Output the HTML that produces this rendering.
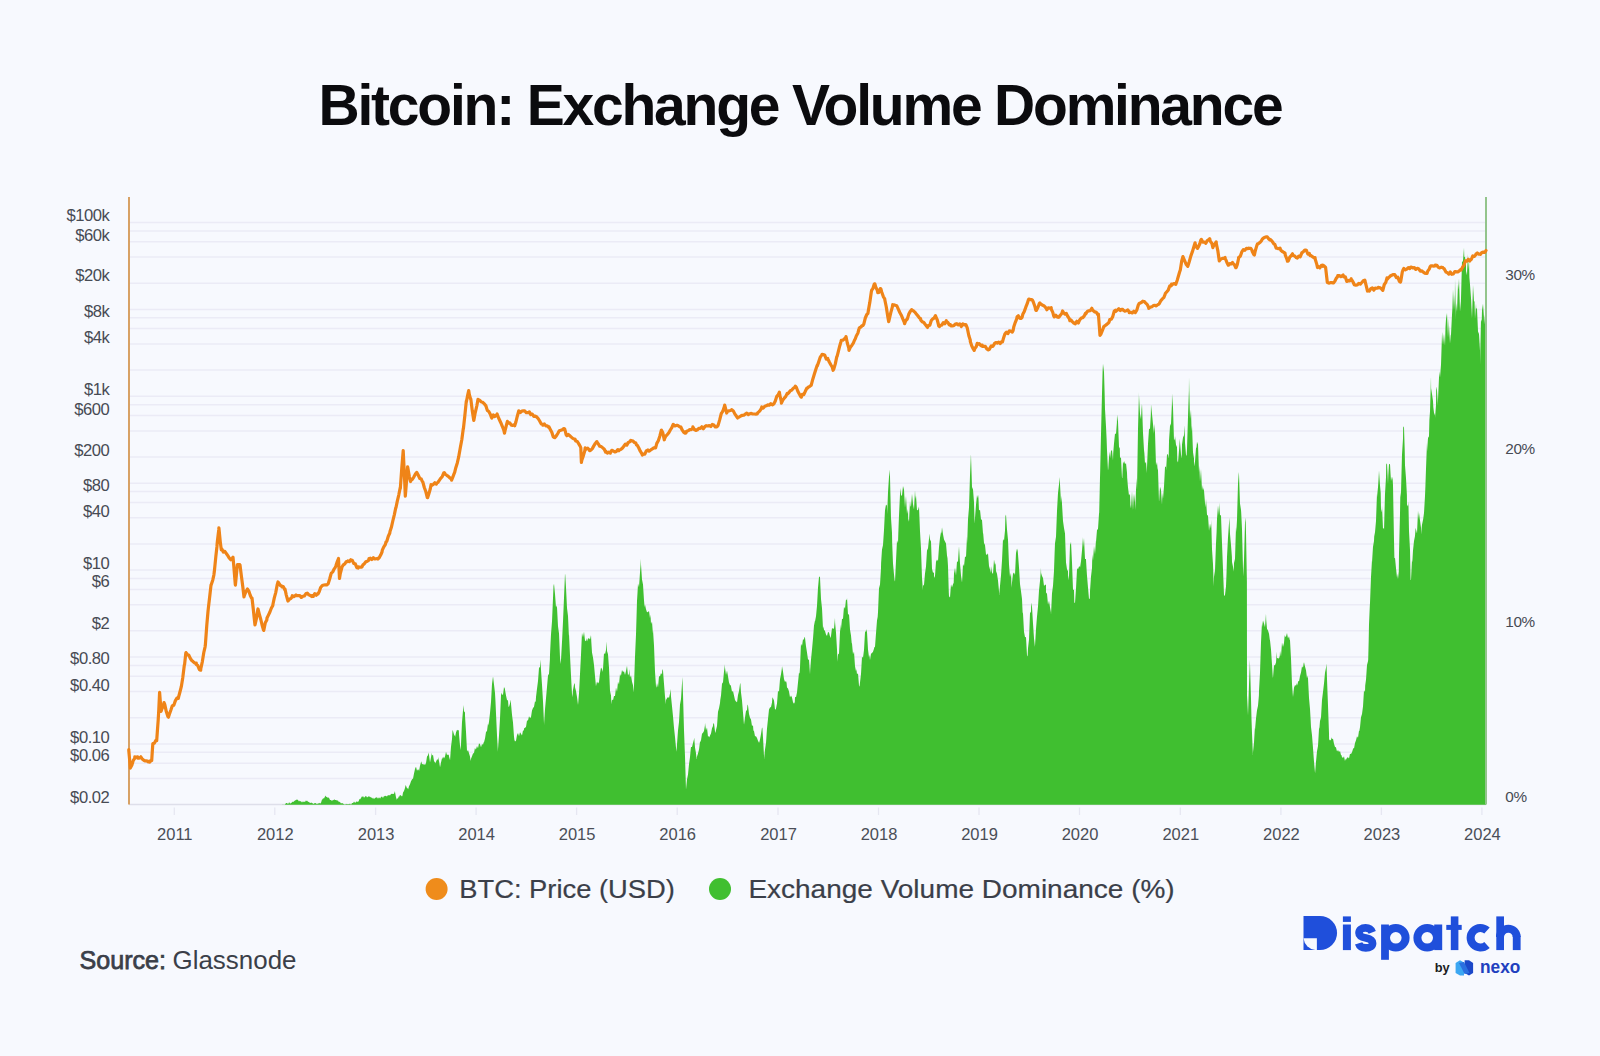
<!DOCTYPE html>
<html><head><meta charset="utf-8"><style>
html,body{margin:0;padding:0;}
body{width:1600px;height:1056px;background:#F7F9FE;position:relative;overflow:hidden;font-family:"Liberation Sans",sans-serif;}
.title{position:absolute;left:0;width:1600px;top:74.5px;text-align:center;font-size:57px;font-weight:700;color:#0B0B0E;line-height:61px;letter-spacing:-2.2px;}
svg{position:absolute;left:0;top:0;}
</style></head><body>
<svg width="1600" height="1056" viewBox="0 0 1600 1056">
<g stroke="#EBEBF6" stroke-width="1.5"><line x1="129" x2="1486" y1="778.5" y2="778.5"/><line x1="129" x2="1486" y1="763.2" y2="763.2"/><line x1="129" x2="1486" y1="752.3" y2="752.3"/><line x1="129" x2="1486" y1="743.9" y2="743.9"/><line x1="129" x2="1486" y1="717.7" y2="717.7"/><line x1="129" x2="1486" y1="691.6" y2="691.6"/><line x1="129" x2="1486" y1="676.3" y2="676.3"/><line x1="129" x2="1486" y1="665.4" y2="665.4"/><line x1="129" x2="1486" y1="657.0" y2="657.0"/><line x1="129" x2="1486" y1="630.8" y2="630.8"/><line x1="129" x2="1486" y1="604.7" y2="604.7"/><line x1="129" x2="1486" y1="589.4" y2="589.4"/><line x1="129" x2="1486" y1="578.5" y2="578.5"/><line x1="129" x2="1486" y1="570.1" y2="570.1"/><line x1="129" x2="1486" y1="543.9" y2="543.9"/><line x1="129" x2="1486" y1="517.8" y2="517.8"/><line x1="129" x2="1486" y1="502.5" y2="502.5"/><line x1="129" x2="1486" y1="491.6" y2="491.6"/><line x1="129" x2="1486" y1="483.2" y2="483.2"/><line x1="129" x2="1486" y1="457.0" y2="457.0"/><line x1="129" x2="1486" y1="430.9" y2="430.9"/><line x1="129" x2="1486" y1="415.6" y2="415.6"/><line x1="129" x2="1486" y1="404.7" y2="404.7"/><line x1="129" x2="1486" y1="396.3" y2="396.3"/><line x1="129" x2="1486" y1="370.1" y2="370.1"/><line x1="129" x2="1486" y1="343.9" y2="343.9"/><line x1="129" x2="1486" y1="328.6" y2="328.6"/><line x1="129" x2="1486" y1="317.8" y2="317.8"/><line x1="129" x2="1486" y1="309.4" y2="309.4"/><line x1="129" x2="1486" y1="283.2" y2="283.2"/><line x1="129" x2="1486" y1="257.0" y2="257.0"/><line x1="129" x2="1486" y1="241.7" y2="241.7"/><line x1="129" x2="1486" y1="230.9" y2="230.9"/><line x1="129" x2="1486" y1="222.5" y2="222.5"/></g>
<line x1="129" x2="1486" y1="804.5" y2="804.5" stroke="#DEDFEA" stroke-width="1.6"/>
<path d="M282.5,804.8 L282.5,804.4 L283.0,804.6 L284.0,804.8 L285.0,804.4 L286.0,803.1 L287.0,803.0 L288.0,804.0 L288.8,803.1 L289.0,802.0 L290.0,803.5 L291.0,803.2 L292.0,802.3 L293.0,801.6 L293.8,801.9 L294.0,801.2 L295.0,800.4 L296.0,800.1 L296.9,799.6 L297.0,799.6 L298.0,800.1 L299.0,801.4 L300.0,800.6 L300.0,801.3 L301.0,801.3 L302.0,802.6 L303.0,801.3 L303.8,802.2 L304.0,801.4 L305.0,802.0 L306.0,800.3 L306.2,801.2 L307.0,800.4 L308.0,801.7 L309.0,801.9 L310.0,803.1 L311.0,802.7 L311.2,802.5 L312.0,803.0 L313.0,803.5 L313.8,804.0 L314.0,803.5 L315.0,802.9 L316.0,803.3 L317.0,804.3 L318.0,803.2 L319.0,803.5 L320.0,802.7 L320.0,803.8 L321.0,802.7 L322.0,799.5 L322.5,799.4 L323.0,798.2 L324.0,798.5 L325.0,796.4 L325.6,795.6 L326.0,796.8 L327.0,797.0 L328.0,798.0 L328.1,797.5 L329.0,797.7 L330.0,800.0 L330.0,800.1 L331.0,800.0 L332.0,800.9 L333.0,799.7 L334.0,800.2 L335.0,799.0 L335.0,800.0 L336.0,800.1 L337.0,800.4 L338.0,800.4 L339.0,802.2 L340.0,801.6 L340.0,801.9 L341.0,803.4 L342.0,803.1 L343.0,803.6 L344.0,804.2 L345.0,804.4 L345.0,804.8 L346.0,803.7 L347.0,804.3 L348.0,803.9 L349.0,804.2 L350.0,803.6 L351.0,804.8 L351.2,804.4 L352.0,803.1 L353.0,803.0 L353.8,801.9 L354.0,801.5 L355.0,802.7 L356.0,802.3 L357.0,801.1 L357.5,801.9 L358.0,801.9 L359.0,800.5 L359.4,798.8 L360.0,799.4 L361.0,798.0 L362.0,796.3 L362.5,796.9 L363.0,796.1 L364.0,797.8 L365.0,796.8 L366.0,795.7 L367.0,797.4 L368.0,796.7 L368.8,796.2 L369.0,796.6 L370.0,796.8 L371.0,797.5 L372.0,797.8 L372.5,798.8 L373.0,797.5 L374.0,799.2 L375.0,797.8 L376.0,797.7 L376.2,797.5 L377.0,797.3 L378.0,798.7 L379.0,797.3 L380.0,798.4 L380.0,798.8 L381.0,796.9 L382.0,796.5 L383.0,797.9 L383.8,796.2 L384.0,796.6 L385.0,795.8 L386.0,795.9 L387.0,796.6 L388.0,795.0 L389.0,795.4 L390.0,795.0 L390.0,795.5 L391.0,794.0 L392.0,793.8 L393.0,793.9 L394.0,793.7 L395.0,790.9 L395.0,791.9 L396.0,797.3 L396.9,800.0 L397.0,798.6 L398.0,798.4 L398.8,796.2 L399.0,797.0 L400.0,795.1 L401.0,795.6 L402.0,796.5 L402.5,795.6 L403.0,792.5 L404.0,790.9 L405.0,788.0 L405.6,785.0 L406.0,785.7 L407.0,788.2 L408.0,788.4 L408.1,789.4 L409.0,786.2 L410.0,784.3 L411.0,781.2 L412.0,779.4 L412.5,778.8 L413.0,778.7 L414.0,773.6 L415.0,769.0 L415.6,767.5 L416.0,766.8 L417.0,770.7 L418.0,769.2 L418.8,770.0 L419.0,771.3 L420.0,765.7 L421.0,762.2 L421.2,761.2 L422.0,764.0 L423.0,764.2 L424.0,764.4 L425.0,764.6 L425.0,765.0 L426.0,762.9 L427.0,756.5 L428.0,755.3 L428.1,752.5 L429.0,754.9 L430.0,762.2 L430.0,762.5 L431.0,757.3 L431.9,752.5 L432.0,755.4 L433.0,754.7 L434.0,760.9 L435.0,762.5 L435.0,763.4 L436.0,761.8 L437.0,759.6 L438.0,759.6 L438.1,756.9 L439.0,761.1 L440.0,767.0 L440.0,767.5 L441.0,762.6 L442.0,758.2 L442.5,758.8 L443.0,756.4 L444.0,758.6 L445.0,756.6 L445.6,753.8 L446.0,751.8 L447.0,754.9 L448.0,754.6 L448.8,755.0 L449.0,756.5 L450.0,760.0 L450.0,760.8 L451.0,746.8 L452.0,739.1 L452.5,730.0 L453.0,731.0 L454.0,734.6 L455.0,736.2 L455.0,737.2 L456.0,732.4 L457.0,729.8 L458.0,730.6 L458.8,730.0 L459.0,734.6 L460.0,745.5 L460.6,750.0 L461.0,744.3 L462.0,721.9 L463.0,710.5 L463.1,705.0 L464.0,711.2 L465.0,712.5 L465.0,715.7 L466.0,731.7 L466.9,748.8 L467.0,751.5 L468.0,749.9 L469.0,753.2 L470.0,756.6 L470.6,761.1 L471.0,758.8 L472.0,756.3 L473.0,753.5 L474.0,753.1 L475.0,747.6 L475.4,749.3 L476.0,749.3 L477.0,745.9 L478.0,748.2 L479.0,743.3 L480.0,744.2 L481.0,747.2 L482.0,743.9 L483.0,744.8 L483.7,742.2 L484.0,742.2 L485.0,738.4 L486.0,731.9 L487.0,731.1 L488.0,723.6 L488.4,725.6 L489.0,721.8 L490.0,713.1 L491.0,702.1 L492.0,683.9 L493.0,676.4 L493.1,677.1 L494.0,684.6 L495.0,693.1 L495.5,702.0 L496.0,713.4 L497.0,735.2 L497.9,751.7 L498.0,748.9 L499.0,735.6 L500.0,718.6 L501.0,695.8 L501.4,692.5 L502.0,694.6 L503.0,694.8 L504.0,686.9 L505.0,689.0 L505.0,689.7 L506.0,695.4 L507.0,700.1 L508.0,700.5 L508.5,706.7 L509.0,706.7 L510.0,703.5 L510.9,699.6 L511.0,703.8 L512.0,714.8 L513.0,722.4 L514.0,736.7 L514.4,739.8 L515.0,741.6 L516.0,740.8 L517.0,734.9 L518.0,733.0 L519.0,736.3 L520.0,732.3 L521.0,733.7 L522.0,735.4 L523.0,730.4 L523.9,730.4 L524.0,728.4 L525.0,727.7 L526.0,727.0 L527.0,720.5 L528.0,720.4 L529.0,716.2 L529.8,717.4 L530.0,718.2 L531.0,717.0 L532.0,710.6 L533.0,707.9 L534.0,706.8 L535.0,701.2 L535.7,702.0 L536.0,697.0 L537.0,688.8 L538.0,681.1 L539.0,668.0 L540.0,666.8 L540.5,659.4 L541.0,669.4 L542.0,684.7 L543.0,701.2 L544.0,723.3 L544.0,725.3 L545.0,709.3 L546.0,698.3 L547.0,687.1 L548.0,675.5 L549.0,673.8 L549.9,659.4 L550.0,654.5 L551.0,634.3 L552.0,621.6 L553.0,598.2 L553.5,586.0 L554.0,583.7 L555.0,594.0 L556.0,607.5 L557.0,605.3 L557.0,607.3 L558.0,626.2 L559.0,633.4 L560.0,657.5 L560.6,664.1 L561.0,660.0 L562.0,642.1 L563.0,621.4 L564.0,597.8 L565.0,573.4 L565.3,575.4 L566.0,587.4 L567.0,608.0 L568.0,616.0 L568.9,635.7 L569.0,634.3 L570.0,655.5 L571.0,675.4 L572.0,694.1 L572.4,697.2 L573.0,690.0 L574.0,684.5 L574.8,683.0 L575.0,687.2 L576.0,691.0 L577.0,697.1 L578.0,705.0 L578.3,702.0 L579.0,693.3 L580.0,674.0 L581.0,654.9 L581.9,634.5 L582.0,633.1 L583.0,637.3 L584.0,631.8 L585.0,640.4 L586.0,641.2 L586.6,638.1 L587.0,641.4 L588.0,638.4 L589.0,638.2 L590.0,639.5 L591.0,635.1 L591.3,641.6 L592.0,652.5 L593.0,657.6 L594.0,664.9 L595.0,675.9 L596.0,686.8 L596.1,685.4 L597.0,681.6 L598.0,683.6 L599.0,681.9 L600.0,673.2 L601.0,667.6 L602.0,668.9 L602.0,671.9 L603.0,669.0 L604.0,652.9 L605.0,654.2 L606.0,649.9 L606.7,641.6 L607.0,651.1 L608.0,654.3 L609.0,667.7 L610.0,690.7 L611.0,695.4 L611.4,704.3 L612.0,699.6 L613.0,700.2 L614.0,696.0 L615.0,696.0 L616.0,687.5 L617.0,691.8 L618.0,681.7 L619.0,684.5 L620.0,674.0 L620.9,676.0 L621.0,675.6 L622.0,669.9 L623.0,672.1 L624.0,671.2 L625.0,675.0 L626.0,671.1 L627.0,665.7 L628.0,675.6 L629.0,673.5 L629.2,668.9 L630.0,677.6 L631.0,675.2 L632.0,681.8 L633.0,685.2 L633.9,692.5 L634.0,686.0 L635.0,656.5 L636.0,634.6 L637.0,600.9 L637.5,593.1 L638.0,583.5 L639.0,587.3 L640.0,572.5 L641.0,558.8 L641.0,564.7 L642.0,579.6 L643.0,584.4 L644.0,600.6 L644.6,607.3 L645.0,604.4 L646.0,609.2 L647.0,612.2 L648.0,612.0 L649.0,611.0 L650.0,618.3 L650.5,614.4 L651.0,624.0 L652.0,621.6 L652.9,633.4 L653.0,629.9 L654.0,645.5 L655.0,671.7 L656.0,686.3 L656.4,687.8 L657.0,683.1 L658.0,687.6 L659.0,676.3 L660.0,676.3 L661.0,673.0 L662.0,674.6 L662.3,668.9 L663.0,670.7 L664.0,683.7 L665.0,696.4 L665.9,704.3 L666.0,700.0 L667.0,698.3 L668.0,697.1 L669.0,697.9 L670.0,693.6 L670.6,689.0 L671.0,696.5 L672.0,706.2 L673.0,716.2 L674.0,727.8 L675.0,737.0 L676.0,747.8 L676.5,751.7 L677.0,744.2 L678.0,730.4 L679.0,722.1 L680.0,704.5 L681.0,698.9 L682.0,683.2 L682.4,677.1 L683.0,694.2 L684.0,730.3 L685.0,756.5 L686.0,789.5 L686.0,789.5 L687.0,779.5 L688.0,774.4 L689.0,764.3 L690.0,757.0 L690.7,749.4 L691.0,747.1 L692.0,746.9 L693.0,742.9 L694.0,739.2 L694.2,737.6 L695.0,747.5 L696.0,753.2 L696.6,758.9 L697.0,756.5 L698.0,753.4 L699.0,749.5 L700.0,741.7 L700.1,742.3 L701.0,740.3 L702.0,733.8 L703.0,732.7 L704.0,730.9 L704.9,725.8 L705.0,722.8 L706.0,730.2 L707.0,727.6 L708.0,736.8 L709.0,735.9 L709.6,737.6 L710.0,735.4 L711.0,733.6 L712.0,728.3 L713.0,726.0 L713.2,723.4 L714.0,723.6 L715.0,731.3 L715.5,732.9 L716.0,729.9 L717.0,725.9 L718.0,711.8 L719.0,708.3 L720.0,703.0 L720.3,699.7 L721.0,695.4 L722.0,683.8 L723.0,682.3 L724.0,671.4 L725.0,664.2 L725.0,667.7 L726.0,675.0 L727.0,670.4 L728.0,676.2 L729.0,682.5 L730.0,685.0 L730.9,685.5 L731.0,686.3 L732.0,691.7 L733.0,691.1 L734.0,695.4 L735.0,700.1 L736.0,701.5 L736.8,702.1 L737.0,702.4 L738.0,694.9 L739.0,691.1 L740.0,684.1 L740.4,683.1 L741.0,692.5 L742.0,700.4 L743.0,712.8 L743.9,723.4 L744.0,724.8 L745.0,717.6 L746.0,710.9 L747.0,709.9 L747.5,704.4 L748.0,705.6 L749.0,714.0 L750.0,717.8 L751.0,719.5 L752.0,725.9 L753.0,725.3 L753.4,730.5 L754.0,730.9 L755.0,736.2 L756.0,736.2 L757.0,738.1 L758.0,740.8 L759.0,742.8 L759.3,742.3 L760.0,739.6 L761.0,734.0 L762.0,727.6 L762.4,728.1 L763.0,737.6 L764.0,756.0 L764.1,758.9 L765.0,749.4 L766.0,743.0 L767.0,728.6 L768.0,719.1 L768.8,711.5 L769.0,709.6 L770.0,707.5 L771.0,706.9 L772.0,702.5 L772.4,697.3 L773.0,698.2 L774.0,700.6 L775.0,709.6 L775.9,709.2 L776.0,708.5 L777.0,703.4 L778.0,690.7 L779.0,691.8 L780.0,679.2 L781.0,674.3 L781.8,668.9 L782.0,666.0 L783.0,671.6 L784.0,679.0 L785.0,681.9 L786.0,681.0 L786.6,683.1 L787.0,687.5 L788.0,688.4 L789.0,691.6 L790.0,697.3 L790.1,697.3 L791.0,695.4 L792.0,697.5 L793.0,702.2 L794.0,703.8 L794.8,702.1 L795.0,696.8 L796.0,697.3 L797.0,692.3 L798.0,682.6 L799.0,672.5 L799.6,673.7 L800.0,667.2 L800.8,647.6 L801.0,643.7 L802.0,645.9 L803.0,639.3 L804.0,639.8 L804.3,637.0 L805.0,637.7 L806.0,646.2 L807.0,652.5 L808.0,659.4 L809.0,659.8 L810.0,674.3 L810.2,670.1 L811.0,659.5 L812.0,649.4 L813.0,638.5 L814.0,625.6 L815.0,620.5 L815.0,621.6 L816.0,616.2 L817.0,605.8 L818.0,587.8 L819.0,576.9 L819.7,576.6 L820.0,577.6 L821.0,599.0 L822.0,608.2 L823.0,628.4 L823.3,626.3 L824.0,629.7 L825.0,630.9 L826.0,634.6 L827.0,636.0 L828.0,631.9 L829.0,632.4 L830.0,636.6 L830.4,638.1 L831.0,636.0 L832.0,627.9 L833.0,628.8 L834.0,628.4 L835.0,617.8 L835.1,622.8 L836.0,632.5 L837.0,649.6 L837.5,661.8 L838.0,654.4 L839.0,653.6 L840.0,631.7 L841.0,624.2 L841.0,628.7 L842.0,619.0 L843.0,618.7 L844.0,606.8 L845.0,608.8 L846.0,599.2 L846.9,600.3 L847.0,597.4 L848.0,614.6 L849.0,614.2 L850.0,629.5 L851.0,635.4 L851.7,642.9 L852.0,643.5 L853.0,654.2 L854.0,651.4 L855.0,666.3 L856.0,671.3 L856.4,668.9 L857.0,674.2 L858.0,673.2 L859.0,685.5 L859.5,686.7 L860.0,682.5 L861.0,673.9 L862.0,656.8 L862.3,657.1 L863.0,657.8 L864.0,649.9 L865.0,632.2 L865.9,631.0 L866.0,629.1 L867.0,632.1 L868.0,649.6 L869.0,657.3 L869.4,654.7 L870.0,660.0 L871.0,653.8 L872.0,653.0 L873.0,651.7 L874.0,648.8 L874.2,647.6 L875.0,646.7 L876.0,633.3 L877.0,620.5 L877.7,616.8 L878.0,612.3 L879.0,588.3 L880.0,584.4 L881.0,568.3 L881.1,563.1 L882.0,549.6 L883.0,545.1 L884.0,530.1 L884.8,513.9 L885.0,510.2 L886.0,504.5 L887.0,505.7 L887.2,513.9 L888.0,492.3 L889.0,477.1 L889.7,469.5 L890.0,477.1 L891.0,517.7 L892.0,532.9 L892.2,543.4 L893.0,563.4 L894.0,574.4 L894.6,580.3 L895.0,581.6 L896.0,560.8 L897.0,540.2 L898.0,543.3 L898.3,533.6 L899.0,515.3 L900.0,494.3 L900.8,488.0 L901.0,495.7 L902.0,495.2 L903.0,486.1 L904.0,489.7 L905.0,507.8 L905.7,499.1 L906.0,496.1 L907.0,513.9 L908.0,509.0 L908.2,518.8 L909.0,521.7 L910.0,500.9 L910.6,506.5 L911.0,506.3 L912.0,493.7 L913.0,504.0 L914.0,509.4 L915.0,490.2 L915.5,499.1 L916.0,495.5 L917.0,510.2 L918.0,509.9 L919.0,506.5 L919.2,511.4 L920.0,531.2 L921.0,548.8 L922.0,577.7 L922.9,590.2 L923.0,585.7 L924.0,584.7 L925.0,573.5 L926.0,566.5 L927.0,550.4 L928.0,548.2 L929.0,538.7 L929.1,533.6 L930.0,539.4 L931.0,541.4 L932.0,568.7 L933.0,572.8 L934.0,572.6 L934.0,577.9 L935.0,576.1 L936.0,561.8 L937.0,559.4 L938.0,561.0 L939.0,546.9 L940.0,537.7 L941.0,531.9 L941.4,533.6 L942.0,527.2 L943.0,534.3 L944.0,539.5 L945.0,541.6 L946.0,543.5 L947.0,555.5 L947.5,558.2 L948.0,566.2 L948.8,592.6 L949.0,596.2 L950.0,597.4 L951.0,584.3 L952.0,587.5 L953.0,584.3 L953.7,582.8 L954.0,573.4 L955.0,567.8 L956.0,575.5 L957.0,561.6 L958.0,561.7 L958.6,552.0 L959.0,546.3 L960.0,563.6 L961.0,575.6 L962.0,582.4 L962.3,577.9 L963.0,564.0 L964.0,566.3 L965.0,556.4 L966.0,557.0 L967.0,536.2 L967.2,543.4 L968.0,519.2 L969.0,507.6 L970.0,475.6 L970.9,454.8 L971.0,455.4 L972.0,487.0 L973.0,489.6 L974.0,502.2 L974.6,523.7 L975.0,518.1 L976.0,504.8 L977.0,494.9 L978.0,498.2 L978.3,494.2 L979.0,510.4 L980.0,509.7 L981.0,519.2 L982.0,520.1 L983.0,533.5 L983.2,533.6 L984.0,543.1 L985.0,545.0 L986.0,554.5 L987.0,554.8 L988.0,553.3 L989.0,566.0 L990.0,569.5 L990.6,572.9 L991.0,566.0 L992.0,572.4 L993.0,574.1 L994.0,559.4 L995.0,565.1 L995.6,563.1 L996.0,571.0 L997.0,573.8 L998.0,580.4 L999.0,591.2 L999.2,595.1 L1000.0,585.7 L1001.0,575.6 L1002.0,560.6 L1003.0,538.9 L1004.0,540.8 L1005.0,530.6 L1005.4,516.3 L1006.0,514.6 L1007.0,529.5 L1008.0,539.7 L1009.0,564.5 L1010.0,576.9 L1011.0,572.7 L1011.6,587.7 L1012.0,582.4 L1013.0,573.8 L1014.0,572.6 L1015.0,575.0 L1016.0,552.9 L1017.0,548.6 L1017.7,550.8 L1018.0,554.3 L1019.0,567.6 L1020.0,584.0 L1021.0,591.2 L1022.0,599.0 L1022.6,612.3 L1023.0,613.6 L1024.0,631.7 L1025.0,637.1 L1026.0,637.3 L1027.0,655.2 L1027.6,656.6 L1028.0,648.2 L1029.0,639.5 L1030.0,613.3 L1031.0,611.4 L1031.2,602.5 L1032.0,606.8 L1033.0,623.4 L1034.0,638.3 L1034.9,646.8 L1035.0,645.7 L1036.0,629.0 L1037.0,616.4 L1038.0,606.5 L1039.0,590.6 L1040.0,581.1 L1041.0,567.4 L1041.1,572.9 L1042.0,575.9 L1043.0,578.0 L1044.0,586.1 L1045.0,584.8 L1046.0,584.7 L1046.0,592.6 L1047.0,593.8 L1048.0,604.8 L1049.0,600.8 L1050.0,607.2 L1050.9,612.3 L1051.0,614.7 L1052.0,593.2 L1053.0,585.7 L1054.0,570.7 L1054.6,553.2 L1055.0,543.3 L1056.0,536.8 L1057.0,511.1 L1058.0,492.9 L1059.0,484.5 L1059.6,476.9 L1060.0,483.9 L1061.0,503.1 L1062.0,495.8 L1062.0,504.0 L1063.0,521.0 L1064.0,528.1 L1065.0,533.4 L1066.0,562.5 L1067.0,569.2 L1068.0,571.2 L1068.2,580.3 L1069.0,575.5 L1070.0,544.8 L1070.6,543.4 L1071.0,541.7 L1072.0,562.6 L1073.0,589.4 L1074.0,590.0 L1074.3,602.5 L1075.0,602.9 L1076.0,588.6 L1077.0,569.6 L1078.0,568.0 L1078.0,569.3 L1079.0,566.5 L1080.0,566.5 L1080.0,567.7 L1081.0,561.3 L1082.0,550.4 L1083.0,537.0 L1083.0,547.3 L1084.0,538.0 L1085.0,559.0 L1086.0,559.1 L1086.1,561.6 L1087.0,575.8 L1088.0,587.5 L1089.0,598.9 L1089.8,598.5 L1090.0,591.1 L1091.0,576.4 L1092.0,568.0 L1092.3,554.2 L1093.0,560.7 L1094.0,546.1 L1095.0,554.2 L1096.0,540.1 L1096.0,542.0 L1097.0,530.1 L1098.0,529.1 L1099.0,513.7 L1099.2,512.5 L1100.0,477.7 L1100.2,470.6 L1101.0,434.3 L1102.0,393.9 L1102.6,371.1 L1103.0,363.7 L1104.0,372.0 L1104.6,392.0 L1105.0,409.0 L1106.0,426.5 L1106.6,438.7 L1107.0,450.3 L1108.0,470.8 L1108.3,468.2 L1109.0,457.2 L1110.0,451.4 L1110.0,458.4 L1111.0,451.0 L1112.0,450.1 L1113.0,460.6 L1113.2,453.4 L1114.0,443.4 L1115.0,433.6 L1116.0,434.0 L1116.9,422.7 L1117.0,414.6 L1118.0,421.4 L1119.0,446.8 L1119.8,448.5 L1120.0,457.7 L1121.0,457.4 L1122.0,477.9 L1122.3,478.0 L1123.0,461.4 L1124.0,463.8 L1124.8,460.8 L1125.0,464.3 L1126.0,463.1 L1127.0,472.8 L1127.2,478.0 L1128.0,487.4 L1129.0,495.4 L1130.0,493.7 L1130.4,505.1 L1131.0,508.5 L1132.0,491.6 L1133.0,510.1 L1133.6,497.7 L1134.0,493.7 L1135.0,502.2 L1135.3,510.0 L1136.0,489.8 L1137.0,478.0 L1137.0,490.2 L1138.0,429.0 L1139.0,392.0 L1139.0,395.3 L1140.0,413.8 L1141.0,419.2 L1141.5,409.2 L1142.0,403.5 L1143.0,432.7 L1144.0,450.0 L1144.4,453.4 L1145.0,463.4 L1146.0,461.8 L1146.9,473.1 L1147.0,467.3 L1148.0,443.7 L1149.0,429.2 L1150.0,428.6 L1150.8,415.3 L1151.0,404.2 L1152.0,414.1 L1153.0,424.1 L1153.8,433.8 L1154.0,423.7 L1155.0,432.2 L1156.0,465.6 L1157.0,461.9 L1157.5,468.2 L1158.0,470.3 L1159.0,501.4 L1159.2,500.2 L1160.0,486.8 L1161.0,490.0 L1162.0,504.7 L1162.4,492.8 L1163.0,498.8 L1164.0,486.5 L1165.0,467.1 L1166.0,466.6 L1166.1,470.6 L1167.0,454.2 L1168.0,454.4 L1168.7,458.4 L1169.0,440.7 L1170.0,426.0 L1171.0,423.4 L1171.9,404.3 L1172.0,393.5 L1173.0,407.3 L1174.0,440.6 L1174.8,438.7 L1175.0,435.9 L1176.0,444.8 L1177.0,447.3 L1177.3,460.8 L1178.0,462.5 L1179.0,450.6 L1179.8,438.7 L1180.0,442.1 L1181.0,454.3 L1181.7,458.4 L1182.0,444.5 L1183.0,437.5 L1184.0,435.3 L1184.7,425.2 L1185.0,442.8 L1186.0,454.8 L1186.6,455.9 L1187.0,448.4 L1188.0,416.8 L1188.9,390.7 L1189.0,377.2 L1190.0,418.9 L1191.0,409.8 L1191.6,431.3 L1192.0,425.5 L1193.0,452.3 L1194.0,458.4 L1194.0,466.6 L1195.0,461.6 L1196.0,448.2 L1196.5,447.3 L1197.0,441.8 L1198.0,444.6 L1199.0,472.3 L1199.4,465.7 L1200.0,481.5 L1201.0,468.9 L1202.0,490.3 L1203.0,484.9 L1203.1,487.9 L1204.0,490.5 L1205.0,502.9 L1205.6,507.5 L1206.0,498.8 L1207.0,514.8 L1208.0,515.7 L1208.8,527.2 L1209.0,531.1 L1210.0,523.6 L1211.0,528.5 L1211.2,519.8 L1212.0,549.2 L1213.0,564.2 L1213.7,586.2 L1214.0,576.7 L1215.0,570.3 L1216.0,543.4 L1216.6,532.1 L1217.0,518.7 L1218.0,505.5 L1219.0,515.1 L1219.1,502.6 L1220.0,515.0 L1221.0,515.4 L1221.6,532.1 L1222.0,543.0 L1223.0,569.5 L1224.0,594.9 L1224.0,596.0 L1225.0,594.9 L1226.0,586.3 L1226.5,573.9 L1227.0,557.1 L1228.0,537.6 L1229.0,523.2 L1229.4,517.4 L1230.0,534.0 L1231.0,545.1 L1231.9,556.7 L1232.0,561.9 L1233.0,566.7 L1233.8,571.5 L1234.0,563.0 L1235.0,558.8 L1236.0,526.7 L1236.3,532.1 L1237.0,519.7 L1238.0,483.8 L1238.8,471.9 L1239.0,474.6 L1240.0,503.5 L1241.0,510.0 L1241.2,512.5 L1242.0,528.9 L1243.0,568.7 L1243.2,576.4 L1244.0,559.8 L1245.0,522.8 L1245.6,517.4 L1246.0,531.9 L1246.9,581.3 L1247.0,690.3 L1247.0,695.0 L1248.0,715.3 L1248.0,715.6 L1249.0,684.8 L1249.9,659.6 L1250.0,663.4 L1251.0,698.7 L1251.5,719.3 L1252.0,733.2 L1252.9,755.1 L1253.0,751.9 L1254.0,742.4 L1254.9,727.2 L1255.0,729.8 L1256.0,718.4 L1257.0,710.2 L1258.0,705.8 L1258.9,695.4 L1259.0,691.0 L1260.0,672.7 L1261.0,642.6 L1261.9,623.9 L1262.0,627.0 L1263.0,620.4 L1264.0,623.5 L1265.0,627.3 L1266.0,613.4 L1266.2,619.9 L1267.0,628.8 L1268.0,630.4 L1269.0,633.7 L1269.8,639.8 L1270.0,640.3 L1271.0,649.5 L1272.0,664.6 L1272.8,677.5 L1273.0,677.6 L1274.0,665.2 L1275.0,665.3 L1276.0,662.6 L1276.8,651.7 L1277.0,658.1 L1278.0,658.2 L1279.0,658.5 L1279.8,655.7 L1280.0,650.8 L1281.0,656.6 L1282.0,642.4 L1283.0,647.0 L1284.0,643.0 L1284.7,634.8 L1285.0,636.8 L1286.0,636.4 L1287.0,633.0 L1288.0,638.4 L1289.0,636.3 L1289.7,639.8 L1290.0,640.2 L1291.0,658.6 L1292.0,684.1 L1292.7,693.4 L1293.0,697.1 L1294.0,687.8 L1295.0,684.9 L1296.0,685.8 L1297.0,682.9 L1297.7,685.5 L1298.0,681.1 L1299.0,681.6 L1300.0,676.1 L1301.0,672.5 L1302.0,666.2 L1303.0,667.8 L1303.6,663.6 L1304.0,662.3 L1305.0,666.6 L1306.0,670.3 L1307.0,678.2 L1307.6,675.5 L1308.0,678.6 L1309.0,698.0 L1310.0,708.9 L1310.6,719.3 L1311.0,727.1 L1312.0,735.3 L1313.0,748.0 L1314.0,761.8 L1315.0,772.6 L1315.1,773.0 L1316.0,761.7 L1317.0,751.2 L1318.0,745.9 L1319.0,729.1 L1319.5,727.2 L1320.0,721.1 L1321.0,717.4 L1322.0,700.1 L1323.0,692.1 L1324.0,683.4 L1325.0,672.7 L1326.0,667.8 L1326.5,663.6 L1327.0,679.1 L1328.0,705.6 L1329.0,733.6 L1329.1,739.2 L1330.0,740.5 L1331.0,739.7 L1331.5,737.2 L1332.0,738.9 L1333.0,738.7 L1334.0,743.8 L1335.0,746.9 L1335.4,747.1 L1336.0,747.5 L1337.0,751.4 L1338.0,749.9 L1339.0,752.0 L1340.0,751.1 L1341.0,754.9 L1341.4,755.1 L1342.0,757.1 L1343.0,757.9 L1344.0,756.3 L1345.0,761.2 L1345.4,759.0 L1346.0,759.8 L1347.0,757.8 L1348.0,757.2 L1349.0,758.6 L1349.3,757.0 L1350.0,753.7 L1351.0,754.0 L1352.0,752.3 L1353.0,748.9 L1353.3,748.1 L1354.0,748.4 L1355.0,743.1 L1356.0,740.3 L1357.0,736.2 L1358.0,737.8 L1359.0,730.7 L1359.3,731.2 L1360.0,727.2 L1361.0,717.3 L1362.0,714.0 L1363.0,706.6 L1364.0,690.2 L1365.0,692.1 L1365.2,685.5 L1366.0,679.7 L1367.0,665.1 L1368.0,661.3 L1368.2,659.6 L1368.7,640.2 L1369.0,624.5 L1369.8,606.2 L1370.0,603.0 L1371.0,576.9 L1372.0,560.1 L1372.0,562.6 L1373.0,546.8 L1374.0,540.9 L1374.2,536.4 L1375.0,532.2 L1376.0,521.0 L1377.0,493.2 L1377.0,497.2 L1378.0,487.3 L1378.5,479.8 L1379.0,470.6 L1380.0,485.6 L1380.7,492.8 L1381.0,509.0 L1381.8,512.5 L1382.0,505.4 L1383.0,528.9 L1384.0,527.7 L1384.0,531.0 L1385.0,494.1 L1386.0,477.3 L1386.2,464.5 L1387.0,463.3 L1388.0,483.8 L1388.3,475.4 L1389.0,464.2 L1390.0,464.1 L1390.5,473.2 L1391.0,481.0 L1392.0,476.4 L1392.7,479.8 L1393.0,485.3 L1394.0,540.0 L1394.4,558.2 L1395.0,557.7 L1396.0,568.2 L1397.0,577.4 L1397.1,573.5 L1398.0,578.9 L1398.8,571.3 L1399.0,553.0 L1400.0,514.1 L1400.3,497.2 L1401.0,492.0 L1402.0,454.6 L1403.0,438.8 L1403.2,426.3 L1404.0,427.4 L1404.7,449.2 L1405.0,465.3 L1406.0,478.3 L1406.9,495.0 L1407.0,504.6 L1408.0,506.5 L1408.4,501.6 L1409.0,531.0 L1410.0,550.1 L1410.6,580.0 L1411.0,579.8 L1412.0,560.0 L1412.3,562.6 L1413.0,550.6 L1414.0,541.1 L1415.0,536.0 L1415.6,527.7 L1416.0,529.4 L1417.0,533.4 L1418.0,510.7 L1418.9,519.0 L1419.0,512.7 L1420.0,520.6 L1421.0,527.7 L1421.0,534.5 L1422.0,524.8 L1423.0,520.1 L1423.2,519.0 L1424.0,513.1 L1425.0,495.9 L1425.4,486.3 L1426.0,468.7 L1427.0,442.5 L1427.1,451.4 L1428.0,438.0 L1429.0,436.2 L1429.4,419.9 L1430.0,411.6 L1431.0,376.2 L1431.1,388.2 L1432.0,394.0 L1433.0,400.9 L1433.3,406.9 L1434.0,412.8 L1435.0,415.4 L1435.0,417.9 L1436.0,405.3 L1436.2,386.5 L1437.0,390.3 L1437.9,405.2 L1438.0,399.6 L1439.0,377.7 L1439.1,371.2 L1440.0,377.6 L1441.0,364.8 L1441.3,355.8 L1442.0,334.0 L1442.1,332.0 L1443.0,344.8 L1443.8,335.4 L1444.0,333.9 L1445.0,345.8 L1445.5,326.9 L1446.0,318.9 L1447.0,312.9 L1448.0,337.4 L1449.0,318.0 L1449.0,325.2 L1450.0,343.4 L1450.7,335.4 L1451.0,334.4 L1452.0,314.8 L1452.4,308.1 L1453.0,289.6 L1454.0,310.1 L1454.9,294.5 L1455.0,278.9 L1456.0,319.6 L1456.1,303.0 L1457.0,311.6 L1458.0,283.8 L1458.3,289.4 L1459.0,278.5 L1460.0,311.7 L1460.9,301.3 L1461.0,298.2 L1462.0,261.3 L1462.6,262.1 L1463.0,260.8 L1464.0,247.7 L1464.3,257.0 L1465.0,256.8 L1466.0,265.5 L1466.0,271.1 L1467.0,275.2 L1467.7,253.6 L1468.0,269.9 L1469.0,258.6 L1469.4,277.5 L1470.0,284.4 L1471.0,298.0 L1471.1,299.6 L1472.0,318.3 L1473.0,285.1 L1474.0,301.5 L1474.5,301.3 L1475.0,318.7 L1476.0,303.6 L1476.2,308.1 L1477.0,309.1 L1477.9,328.6 L1478.0,331.6 L1479.0,334.0 L1480.0,350.7 L1480.0,365.1 L1481.0,319.2 L1481.7,321.8 L1482.0,310.6 L1483.0,303.7 L1483.9,316.6 L1484.0,324.8 L1485.0,314.8 L1485.6,325.2 L1486,804.8 Z" fill="#40BF30"/>
<line x1="129" x2="129" y1="197" y2="804.5" stroke="#D69D5E" stroke-width="1.9"/>
<line x1="1486" x2="1486" y1="197" y2="804.5" stroke="#93C48C" stroke-width="2"/>
<g stroke="#E6E7F2" stroke-width="1.3"><line x1="174.3" x2="174.3" y1="807.5" y2="815"/><line x1="274.8" x2="274.8" y1="807.5" y2="815"/><line x1="375.6" x2="375.6" y1="807.5" y2="815"/><line x1="476.1" x2="476.1" y1="807.5" y2="815"/><line x1="576.6" x2="576.6" y1="807.5" y2="815"/><line x1="677.2" x2="677.2" y1="807.5" y2="815"/><line x1="778.0" x2="778.0" y1="807.5" y2="815"/><line x1="878.5" x2="878.5" y1="807.5" y2="815"/><line x1="979.0" x2="979.0" y1="807.5" y2="815"/><line x1="1079.5" x2="1079.5" y1="807.5" y2="815"/><line x1="1180.3" x2="1180.3" y1="807.5" y2="815"/><line x1="1280.9" x2="1280.9" y1="807.5" y2="815"/><line x1="1381.4" x2="1381.4" y1="807.5" y2="815"/><line x1="1481.9" x2="1481.9" y1="807.5" y2="815"/></g>
<path d="M128.8,749.5 L128.8,750.6 L130.3,767.0 L130.3,768.1 L131.8,765.3 L133.3,760.4 L134.7,758.3 L134.8,756.9 L136.3,757.2 L137.6,756.8 L137.8,758.2 L139.3,758.2 L140.8,756.8 L142.3,759.1 L143.8,760.3 L145.3,761.0 L146.8,760.8 L148.3,761.8 L149.4,761.2 L149.8,762.1 L151.3,760.3 L151.7,760.6 L152.8,743.9 L152.9,743.6 L154.3,743.2 L155.8,740.4 L156.7,740.7 L157.3,732.1 L158.2,720.0 L158.8,709.5 L159.6,692.3 L160.3,701.3 L161.1,711.3 L161.8,709.2 L163.3,705.9 L164.0,702.5 L164.8,704.6 L166.3,711.6 L167.8,716.3 L168.4,717.2 L169.3,714.4 L170.8,710.3 L172.3,705.8 L172.8,705.5 L173.8,705.2 L175.3,700.9 L176.8,698.2 L178.3,698.4 L178.7,696.7 L179.8,692.5 L181.3,686.7 L181.6,685.0 L182.8,677.4 L184.3,665.2 L184.6,664.4 L185.8,653.1 L186.0,652.6 L187.3,654.3 L188.8,655.1 L190.3,658.4 L190.4,658.5 L191.8,660.6 L193.3,661.8 L194.8,663.2 L196.3,663.1 L196.3,664.4 L197.8,665.6 L199.3,669.5 L200.7,670.2 L200.8,668.6 L202.3,661.8 L203.8,652.5 L205.1,646.8 L205.3,645.6 L206.8,625.2 L208.0,611.5 L208.3,608.6 L209.8,595.8 L211.0,585.1 L211.3,584.6 L212.8,579.9 L213.9,574.8 L214.3,571.8 L215.8,556.8 L216.9,547.0 L217.3,542.0 L218.8,529.4 L218.9,527.9 L220.3,542.1 L221.3,549.9 L221.8,548.9 L223.3,552.0 L224.8,551.3 L225.7,552.8 L226.3,553.5 L227.8,555.7 L229.3,558.1 L230.0,558.7 L230.8,559.7 L232.3,558.1 L233.0,557.2 L233.8,566.2 L235.3,584.5 L235.4,585.1 L236.8,570.7 L237.4,564.6 L238.3,564.5 L239.8,564.6 L240.0,565.0 L241.3,575.4 L242.8,586.8 L244.0,597.0 L244.3,595.6 L245.8,591.9 L247.3,589.3 L247.5,589.0 L248.8,591.0 L250.3,595.5 L251.8,598.6 L252.0,598.0 L253.3,609.3 L254.8,623.5 L255.0,625.0 L256.3,619.2 L257.8,609.7 L258.0,609.0 L259.3,614.1 L260.8,619.5 L262.3,625.8 L263.5,630.0 L263.8,630.3 L265.3,622.8 L266.8,620.0 L267.0,618.0 L268.3,615.4 L269.8,612.3 L271.3,608.3 L272.8,605.5 L273.0,604.0 L274.3,597.8 L275.8,592.3 L277.3,584.4 L278.0,582.0 L278.8,583.0 L280.3,585.4 L281.8,585.9 L282.0,587.0 L283.3,586.6 L284.8,589.7 L285.0,589.0 L286.3,595.1 L287.8,600.7 L288.0,601.0 L289.3,599.2 L290.8,598.6 L292.0,597.0 L292.3,595.7 L293.8,596.6 L295.3,595.6 L296.0,595.0 L296.8,595.6 L298.3,595.6 L299.8,595.5 L301.3,597.4 L302.0,597.0 L302.8,596.3 L304.3,596.0 L305.8,593.8 L306.0,594.0 L307.3,593.2 L308.8,594.8 L310.3,595.4 L311.8,596.6 L312.0,595.5 L313.3,596.3 L314.8,593.6 L316.3,595.2 L317.8,593.4 L318.0,594.0 L319.3,591.5 L320.8,587.1 L321.0,587.0 L322.3,585.6 L323.8,585.1 L324.0,585.0 L325.3,584.8 L326.8,584.8 L328.0,584.0 L328.3,583.4 L329.8,578.5 L331.0,574.0 L331.3,573.2 L332.8,571.8 L334.3,568.6 L335.0,568.0 L335.8,566.1 L337.3,561.6 L338.5,558.5 L338.8,564.7 L339.5,578.5 L340.3,573.5 L341.8,567.9 L342.0,567.0 L343.3,564.9 L344.8,563.9 L346.3,561.5 L347.8,561.6 L348.0,561.0 L349.3,561.7 L350.8,559.7 L351.0,560.0 L352.3,560.4 L353.8,563.5 L355.3,563.9 L356.8,567.7 L358.0,568.0 L358.3,566.9 L359.8,567.2 L361.3,567.2 L362.0,567.0 L362.8,565.0 L364.3,563.7 L365.8,561.8 L367.3,561.2 L368.8,560.1 L369.0,558.5 L370.3,558.2 L371.8,559.5 L373.3,557.7 L374.8,559.0 L376.3,558.7 L377.8,558.4 L378.0,559.0 L379.3,557.6 L380.8,554.8 L382.0,552.0 L382.3,550.2 L383.8,546.9 L385.3,544.6 L386.0,542.0 L386.8,541.3 L388.3,536.2 L389.8,533.0 L390.0,531.4 L391.3,527.6 L392.8,521.0 L394.3,514.8 L395.8,507.6 L395.9,508.0 L397.3,501.1 L398.8,494.8 L400.3,487.4 L400.3,488.6 L401.8,467.9 L403.2,450.7 L403.3,452.6 L404.8,484.0 L405.3,496.2 L406.3,484.0 L407.6,466.9 L407.8,467.7 L409.3,476.3 L410.5,481.5 L410.8,480.3 L412.3,479.3 L413.8,477.1 L415.3,474.2 L416.4,472.7 L416.8,472.4 L418.3,475.3 L419.8,478.5 L421.3,479.1 L422.3,481.5 L422.8,481.9 L424.3,487.5 L425.8,491.5 L427.3,497.6 L427.6,497.7 L428.8,494.1 L430.3,488.8 L431.1,484.5 L431.8,485.3 L433.3,484.4 L434.8,482.7 L436.3,484.1 L437.0,483.0 L437.8,482.5 L439.3,480.4 L440.8,478.2 L442.3,476.4 L443.8,472.8 L444.3,472.7 L445.3,474.2 L446.8,475.3 L448.3,476.3 L449.8,477.8 L451.3,478.8 L451.6,480.1 L452.8,477.1 L454.3,473.1 L454.6,472.7 L455.8,467.7 L457.3,462.9 L458.8,456.4 L459.0,455.1 L460.3,447.8 L461.8,439.7 L463.3,428.5 L463.4,428.7 L464.8,416.0 L466.3,401.2 L466.3,402.3 L467.8,394.6 L468.7,390.5 L469.3,394.4 L470.7,399.4 L470.8,398.9 L472.3,411.1 L473.7,419.9 L473.8,420.4 L475.3,412.3 L476.8,406.0 L478.0,399.4 L478.3,399.5 L479.8,400.4 L481.3,402.0 L482.8,402.3 L484.3,403.8 L485.4,405.2 L485.8,405.5 L487.3,410.4 L488.8,411.5 L490.3,414.2 L491.3,417.0 L491.8,418.0 L493.3,415.0 L494.8,416.5 L496.3,415.4 L497.1,414.0 L497.8,416.2 L499.3,419.5 L500.8,422.7 L502.3,426.3 L503.8,430.2 L504.5,433.1 L505.3,429.5 L506.8,423.6 L507.4,421.4 L508.3,423.1 L509.8,422.9 L511.3,425.1 L512.8,425.3 L514.3,424.6 L514.7,425.8 L515.8,422.3 L517.3,416.2 L518.8,410.8 L519.1,411.1 L520.3,412.5 L521.8,411.1 L523.3,410.9 L524.8,410.9 L526.3,412.7 L527.8,412.5 L528.0,412.6 L529.3,411.9 L530.8,414.6 L532.3,414.1 L533.8,416.3 L535.3,416.2 L536.8,417.0 L536.8,417.1 L538.3,418.8 L539.8,421.3 L541.3,424.0 L542.6,424.3 L542.8,425.2 L544.3,423.9 L545.8,425.9 L547.3,425.9 L548.5,427.2 L548.8,426.6 L550.3,429.5 L551.8,432.3 L553.3,436.9 L554.4,437.5 L554.8,437.6 L556.3,435.9 L557.8,433.5 L558.8,431.6 L559.3,430.8 L560.8,430.3 L562.3,429.7 L563.8,428.5 L564.6,428.7 L565.3,431.2 L566.1,434.6 L566.8,435.7 L568.3,434.5 L569.8,435.8 L571.3,437.1 L572.8,438.4 L574.3,439.1 L574.9,439.0 L575.8,441.0 L577.3,441.5 L578.8,443.9 L580.3,446.5 L580.8,447.8 L581.4,462.5 L581.8,460.3 L583.3,455.9 L584.8,450.7 L585.2,447.8 L586.3,449.0 L587.8,448.2 L589.3,449.9 L589.6,450.7 L590.8,450.1 L592.3,448.6 L593.8,445.9 L595.3,443.4 L596.8,441.6 L596.9,441.9 L598.3,443.9 L599.8,446.3 L601.3,446.6 L602.8,447.9 L604.3,449.2 L605.7,452.2 L605.8,451.2 L607.3,453.0 L608.8,452.2 L610.3,453.1 L611.8,450.3 L613.3,451.0 L614.8,452.0 L616.3,451.4 L617.8,449.6 L618.9,450.7 L619.3,450.1 L620.8,449.4 L622.3,448.3 L623.8,446.3 L625.3,444.2 L626.8,445.1 L628.3,442.4 L629.8,441.8 L630.7,440.4 L631.3,441.0 L632.8,440.8 L634.3,442.4 L635.8,443.0 L636.5,444.8 L637.3,445.3 L638.8,448.0 L640.3,451.2 L641.8,453.6 L642.4,455.1 L643.3,454.0 L644.8,454.2 L646.3,450.9 L647.8,450.0 L648.3,450.7 L649.3,451.2 L650.8,449.8 L652.3,448.9 L653.8,447.9 L655.3,448.0 L655.6,447.8 L656.8,443.4 L658.3,440.7 L659.8,436.2 L661.3,430.3 L661.5,430.2 L662.8,432.8 L664.3,439.8 L664.4,439.0 L665.8,436.1 L667.3,434.6 L668.8,432.7 L670.3,430.0 L671.8,427.7 L673.2,424.3 L673.3,424.3 L674.8,425.9 L676.3,425.4 L677.8,425.4 L679.3,426.6 L680.6,427.2 L680.8,427.0 L682.3,430.2 L683.8,432.4 L685.0,433.1 L685.3,432.0 L686.0,432.9 L686.8,431.3 L688.3,430.6 L689.8,429.5 L691.3,429.6 L692.8,428.2 L692.9,426.9 L694.3,429.6 L695.8,430.4 L695.9,429.9 L697.3,430.0 L698.8,428.4 L700.3,428.3 L701.8,426.8 L703.3,428.7 L704.8,426.7 L706.3,425.7 L707.8,426.0 L709.3,425.5 L709.8,425.9 L710.8,426.5 L712.3,424.5 L713.8,425.1 L715.3,427.0 L716.8,426.9 L717.8,425.9 L718.3,424.6 L719.8,419.4 L721.3,413.5 L721.7,413.0 L722.8,411.2 L724.3,406.9 L724.7,405.1 L725.8,409.5 L726.7,413.0 L727.3,411.7 L728.8,410.9 L730.3,410.5 L731.7,410.0 L731.8,409.7 L733.3,410.9 L734.8,413.9 L736.3,416.0 L737.7,418.0 L737.8,417.4 L739.3,416.9 L740.8,416.0 L742.3,415.3 L743.8,415.2 L745.3,414.1 L745.6,414.0 L746.8,413.1 L748.3,414.6 L749.8,413.7 L751.3,413.4 L752.8,414.0 L754.3,414.0 L755.8,414.1 L757.3,413.9 L757.5,413.0 L758.8,411.9 L760.3,410.2 L761.5,408.1 L761.8,407.0 L763.3,408.1 L764.8,406.3 L766.3,405.8 L767.8,404.9 L769.3,405.2 L770.8,403.6 L772.3,404.9 L773.4,404.1 L773.8,404.0 L775.3,401.1 L776.8,396.3 L778.3,394.7 L779.4,392.1 L779.8,395.2 L781.3,401.3 L781.4,403.1 L782.8,400.1 L784.3,398.1 L785.8,396.4 L787.3,393.3 L787.4,394.1 L788.8,392.8 L790.3,390.8 L791.8,390.1 L793.3,388.3 L794.8,387.2 L795.3,386.2 L796.3,387.3 L797.8,391.3 L799.3,394.1 L800.8,396.8 L801.3,397.1 L802.3,394.4 L803.8,394.6 L805.3,391.3 L806.8,388.2 L807.2,388.2 L808.3,387.2 L809.8,386.3 L811.2,385.2 L811.3,384.9 L812.8,379.2 L814.3,374.3 L815.8,369.6 L817.2,365.3 L817.3,365.9 L818.8,361.6 L820.3,357.1 L821.8,354.9 L822.1,354.4 L823.3,354.5 L824.8,355.2 L826.3,359.2 L827.8,358.5 L828.1,359.3 L829.3,362.0 L830.8,364.8 L832.3,367.3 L833.1,370.3 L833.8,369.0 L835.3,363.9 L836.8,356.6 L837.1,356.4 L838.3,351.6 L839.8,345.7 L841.0,341.5 L841.3,340.3 L842.8,340.2 L844.3,339.0 L845.8,337.4 L846.0,336.5 L847.3,343.0 L848.8,348.1 L849.0,350.4 L850.3,347.3 L851.8,345.4 L853.3,343.2 L854.8,339.5 L855.0,339.5 L856.3,336.0 L857.8,333.3 L858.9,329.5 L859.3,327.8 L860.8,327.0 L862.3,325.5 L862.9,325.5 L863.8,324.2 L864.9,319.6 L865.3,318.0 L866.8,314.5 L867.9,313.6 L868.3,310.9 L869.8,302.4 L871.3,291.9 L871.8,289.8 L872.8,288.8 L874.3,284.0 L874.8,283.8 L875.8,287.3 L877.3,290.3 L877.8,292.7 L878.8,292.5 L880.3,288.6 L880.8,288.8 L881.8,292.2 L883.3,296.6 L884.8,299.0 L884.8,299.7 L886.3,307.0 L887.8,316.8 L888.7,321.6 L889.3,319.1 L890.8,312.7 L892.3,307.2 L892.7,304.7 L893.8,304.9 L895.3,305.3 L896.7,305.7 L896.8,305.9 L898.3,309.2 L899.8,312.5 L901.3,315.2 L902.8,318.9 L904.3,322.3 L904.6,323.6 L905.8,320.5 L907.3,319.0 L908.8,314.1 L910.3,311.4 L911.6,309.6 L911.8,309.9 L913.3,310.8 L914.8,312.1 L916.3,313.9 L917.8,315.8 L919.3,317.8 L920.6,318.6 L920.8,320.2 L922.3,321.8 L923.8,322.5 L925.3,324.5 L926.8,326.4 L927.5,327.5 L928.3,325.6 L929.8,325.3 L931.3,320.6 L932.8,318.8 L934.3,317.8 L935.5,315.6 L935.8,316.7 L937.3,320.0 L938.8,326.0 L939.4,326.5 L940.3,325.6 L941.8,325.1 L943.3,322.6 L944.8,323.8 L946.3,320.6 L946.4,321.6 L947.8,322.4 L949.3,324.9 L950.4,324.6 L950.8,325.9 L952.3,325.8 L953.8,325.7 L955.3,324.1 L956.8,323.7 L958.3,324.9 L959.8,323.9 L961.3,326.5 L962.8,323.9 L964.3,324.9 L965.8,324.6 L966.3,325.5 L967.3,328.1 L968.8,335.5 L970.3,340.3 L970.3,341.5 L971.8,346.0 L973.3,348.9 L974.2,350.4 L974.8,348.6 L976.3,346.5 L977.2,343.4 L977.8,344.4 L979.3,343.6 L980.8,345.6 L982.2,345.1 L982.3,346.4 L983.8,346.3 L985.3,346.4 L986.8,348.8 L988.3,349.8 L989.5,349.2 L989.8,348.4 L991.3,345.9 L992.8,346.4 L994.3,344.1 L994.4,343.5 L995.8,342.5 L997.3,343.1 L998.8,342.1 L1000.3,343.5 L1001.8,341.6 L1002.5,341.9 L1003.3,338.8 L1004.8,334.2 L1005.7,332.9 L1006.3,332.3 L1007.8,333.6 L1009.3,330.9 L1010.8,331.1 L1012.3,332.1 L1013.1,330.5 L1013.8,326.7 L1015.3,322.3 L1016.8,318.6 L1017.1,316.7 L1018.3,315.8 L1019.8,318.3 L1021.3,318.3 L1022.0,317.5 L1022.8,314.3 L1024.3,311.4 L1025.8,307.2 L1027.3,303.4 L1028.5,299.6 L1028.8,299.1 L1030.3,299.6 L1031.8,299.5 L1032.6,300.4 L1033.3,302.0 L1034.8,306.2 L1035.8,310.2 L1036.3,310.4 L1037.8,307.7 L1039.3,303.6 L1039.9,302.9 L1040.8,304.2 L1042.3,305.0 L1043.8,305.7 L1045.3,307.2 L1046.4,308.6 L1046.8,309.8 L1048.3,307.8 L1049.8,308.2 L1051.2,307.7 L1051.3,309.3 L1052.8,312.4 L1053.7,315.9 L1054.3,316.9 L1055.8,315.2 L1057.3,317.1 L1058.6,316.7 L1058.8,317.3 L1060.3,315.2 L1061.8,313.5 L1062.6,311.0 L1063.3,312.1 L1064.8,314.1 L1066.3,313.3 L1066.7,314.2 L1067.8,316.5 L1069.3,318.7 L1069.9,320.7 L1070.8,319.9 L1072.3,321.6 L1073.8,323.0 L1075.3,323.8 L1075.6,323.2 L1076.8,321.3 L1078.3,323.1 L1078.9,321.6 L1079.8,319.8 L1081.3,318.0 L1082.8,317.6 L1084.3,315.9 L1085.4,313.4 L1085.8,313.8 L1087.3,311.5 L1088.8,310.8 L1090.3,310.7 L1091.8,308.3 L1091.9,308.6 L1093.3,310.7 L1094.8,311.9 L1096.3,312.3 L1097.8,314.8 L1098.4,314.2 L1099.3,325.8 L1100.0,335.4 L1100.8,334.3 L1102.3,330.7 L1103.8,326.6 L1104.1,326.4 L1105.3,325.5 L1106.8,324.4 L1108.3,323.0 L1108.9,322.4 L1109.8,319.6 L1111.3,319.3 L1112.8,316.4 L1114.3,311.0 L1115.4,310.2 L1115.8,311.4 L1117.3,310.1 L1118.8,308.8 L1120.3,310.6 L1121.8,309.3 L1122.7,309.4 L1123.3,310.2 L1124.8,311.1 L1126.3,310.8 L1127.8,310.0 L1129.2,311.8 L1129.3,312.7 L1130.8,312.3 L1132.3,312.9 L1133.8,311.2 L1135.3,312.6 L1135.7,311.8 L1136.8,310.1 L1138.3,305.0 L1139.0,303.7 L1139.8,303.2 L1141.3,302.6 L1142.8,301.2 L1144.3,301.5 L1144.7,302.1 L1145.8,303.2 L1147.3,304.6 L1148.7,307.7 L1148.8,308.4 L1150.3,307.0 L1151.8,306.9 L1153.3,305.6 L1154.8,305.3 L1156.3,305.9 L1157.8,304.6 L1158.5,304.5 L1159.3,303.6 L1160.8,300.8 L1162.3,298.9 L1163.8,297.6 L1165.0,294.7 L1165.3,293.6 L1166.8,291.8 L1168.3,289.9 L1169.8,285.8 L1171.3,285.8 L1171.5,284.2 L1172.8,284.2 L1174.3,283.5 L1175.6,284.2 L1175.8,284.3 L1177.3,279.9 L1178.8,274.8 L1179.6,272.0 L1180.3,269.9 L1181.8,260.6 L1182.9,256.6 L1183.3,257.5 L1184.8,261.1 L1186.3,264.6 L1187.7,266.3 L1187.8,266.4 L1189.3,261.5 L1190.8,256.1 L1192.3,251.9 L1193.8,247.1 L1195.1,242.8 L1195.3,244.4 L1196.8,247.7 L1197.5,248.4 L1198.3,247.0 L1199.8,243.8 L1200.7,240.3 L1201.3,239.4 L1202.8,242.1 L1204.3,242.0 L1205.6,242.8 L1205.8,243.3 L1207.3,240.5 L1208.8,239.5 L1209.7,238.7 L1210.3,241.3 L1211.8,243.2 L1212.9,247.6 L1213.3,246.3 L1214.8,244.3 L1216.2,241.9 L1216.3,243.5 L1217.8,250.6 L1219.3,260.9 L1219.4,260.6 L1220.8,259.1 L1222.3,258.4 L1223.8,258.3 L1225.0,257.5 L1225.3,258.5 L1226.8,262.2 L1228.3,265.2 L1228.8,265.0 L1229.8,263.6 L1231.3,264.0 L1232.5,262.5 L1232.8,263.3 L1234.3,264.6 L1235.8,267.7 L1236.2,267.5 L1237.3,264.4 L1238.8,257.5 L1238.8,257.4 L1240.3,256.3 L1241.8,251.9 L1243.3,249.7 L1243.8,250.0 L1244.8,250.3 L1246.3,248.4 L1247.8,248.6 L1248.8,248.0 L1249.3,248.3 L1250.8,248.3 L1251.9,250.0 L1252.3,251.5 L1253.8,254.5 L1254.4,255.0 L1255.3,250.7 L1256.8,245.6 L1257.5,243.8 L1258.3,243.8 L1259.8,242.6 L1261.3,241.0 L1262.5,238.8 L1262.8,238.6 L1264.3,237.5 L1265.8,237.0 L1266.2,236.9 L1267.3,236.9 L1268.8,239.0 L1270.0,240.0 L1270.3,239.5 L1271.8,240.9 L1273.3,243.0 L1273.8,243.8 L1274.8,244.4 L1276.2,248.1 L1276.3,248.0 L1277.8,248.6 L1279.3,248.5 L1280.0,248.1 L1280.8,250.2 L1282.3,251.5 L1283.8,252.3 L1285.0,253.1 L1285.3,255.2 L1286.8,258.8 L1287.5,261.2 L1288.3,260.9 L1289.8,257.2 L1291.3,255.6 L1292.5,253.8 L1292.8,255.4 L1294.3,255.8 L1295.8,257.1 L1296.2,257.5 L1297.3,258.0 L1298.8,256.1 L1300.0,256.2 L1300.3,256.8 L1301.8,252.9 L1303.3,251.8 L1304.8,250.0 L1305.6,250.0 L1306.3,250.2 L1307.8,254.0 L1309.3,253.4 L1310.0,255.6 L1310.8,255.3 L1312.3,256.7 L1313.8,257.6 L1315.0,257.5 L1315.3,259.5 L1316.8,264.4 L1317.5,267.5 L1318.3,266.5 L1319.8,267.9 L1321.3,265.5 L1322.5,266.2 L1322.8,265.2 L1324.3,266.2 L1325.6,267.5 L1325.8,269.1 L1327.3,282.2 L1327.5,282.5 L1328.8,283.1 L1330.3,282.7 L1331.8,282.6 L1333.3,283.0 L1333.8,282.5 L1334.8,281.3 L1336.3,278.2 L1337.5,276.9 L1337.8,275.7 L1339.3,275.5 L1340.8,276.6 L1342.3,275.6 L1343.1,275.0 L1343.8,276.8 L1345.3,276.8 L1346.8,281.4 L1347.5,281.2 L1348.3,280.4 L1349.8,280.9 L1351.2,278.8 L1351.3,279.1 L1352.8,281.5 L1354.3,284.7 L1355.0,285.0 L1355.8,285.2 L1357.3,285.0 L1358.8,283.3 L1360.0,284.0 L1360.3,284.1 L1361.8,282.5 L1363.3,280.8 L1364.8,280.1 L1365.0,281.0 L1366.3,286.1 L1367.5,291.0 L1367.8,290.2 L1369.3,291.1 L1370.8,288.7 L1372.3,287.9 L1373.0,289.0 L1373.8,290.2 L1375.3,288.0 L1376.8,288.3 L1378.0,288.0 L1378.3,287.3 L1379.8,287.7 L1381.3,288.7 L1382.8,290.3 L1383.0,289.5 L1384.3,284.5 L1385.8,282.4 L1387.0,278.0 L1387.3,279.2 L1388.8,277.3 L1390.0,276.5 L1390.3,276.0 L1391.8,275.2 L1393.3,274.6 L1394.8,274.6 L1395.0,275.0 L1396.3,277.6 L1397.8,277.2 L1399.3,281.3 L1400.5,282.0 L1400.8,281.0 L1402.3,272.0 L1403.0,270.0 L1403.8,268.5 L1405.3,269.8 L1406.8,269.1 L1408.3,267.6 L1409.8,268.6 L1410.0,267.5 L1411.3,267.0 L1412.8,268.0 L1414.3,267.5 L1415.8,269.4 L1416.0,269.0 L1417.3,268.3 L1418.8,269.0 L1420.3,271.2 L1421.8,270.9 L1422.0,271.0 L1423.3,272.1 L1424.8,273.1 L1426.3,273.4 L1427.0,273.5 L1427.8,270.9 L1429.3,269.1 L1430.0,267.0 L1430.8,265.8 L1432.3,265.9 L1433.8,266.1 L1435.0,266.0 L1435.3,265.0 L1436.8,265.3 L1438.3,267.3 L1439.8,267.9 L1441.3,267.2 L1442.8,267.6 L1443.0,268.0 L1444.3,268.9 L1445.8,271.8 L1446.0,272.0 L1447.3,272.6 L1448.8,274.1 L1450.3,272.0 L1451.0,273.5 L1451.8,274.3 L1453.3,274.0 L1454.8,271.5 L1456.0,271.5 L1456.3,272.0 L1457.8,271.9 L1459.3,270.9 L1460.8,269.5 L1461.0,270.0 L1462.3,267.7 L1463.8,265.5 L1465.0,262.0 L1465.3,260.8 L1466.8,261.2 L1468.3,259.3 L1469.8,261.0 L1470.0,260.0 L1471.3,259.5 L1472.8,255.9 L1474.3,256.4 L1475.8,254.7 L1476.0,254.0 L1477.3,253.0 L1478.8,254.1 L1480.0,254.0 L1480.3,254.4 L1481.8,252.5 L1483.3,252.1 L1484.8,252.5 L1486.0,250.5" fill="none" stroke="#EF8418" stroke-width="3.2" stroke-linejoin="round" stroke-linecap="round"/>
<g font-family="Liberation Sans" font-size="16.6" letter-spacing="-0.45" fill="#474B54" text-anchor="end"><text x="109.4" y="220.9">$100k</text><text x="109.4" y="240.9">$60k</text><text x="109.4" y="281.4">$20k</text><text x="109.4" y="316.5">$8k</text><text x="109.4" y="342.9">$4k</text><text x="109.4" y="394.9">$1k</text><text x="109.4" y="414.9">$600</text><text x="109.4" y="455.9">$200</text><text x="109.4" y="490.9">$80</text><text x="109.4" y="516.9">$40</text><text x="109.4" y="568.9">$10</text><text x="109.4" y="586.9">$6</text><text x="109.4" y="628.9">$2</text><text x="109.4" y="663.9">$0.80</text><text x="109.4" y="690.9">$0.40</text><text x="109.4" y="742.9">$0.10</text><text x="109.4" y="760.9">$0.06</text><text x="109.4" y="802.9">$0.02</text></g>
<g font-family="Liberation Sans" font-size="15.3" letter-spacing="-0.35" fill="#474B54" text-anchor="start"><text x="1505.3" y="279.5">30%</text><text x="1505.3" y="454.0">20%</text><text x="1505.3" y="627.0">10%</text><text x="1505.3" y="802.0">0%</text></g>
<g font-family="Liberation Sans" font-size="16.5" fill="#4A4E57" text-anchor="middle"><text x="174.8" y="839.5">2011</text><text x="275.3" y="839.5">2012</text><text x="376.1" y="839.5">2013</text><text x="476.6" y="839.5">2014</text><text x="577.1" y="839.5">2015</text><text x="677.7" y="839.5">2016</text><text x="778.5" y="839.5">2017</text><text x="879.0" y="839.5">2018</text><text x="979.5" y="839.5">2019</text><text x="1080.0" y="839.5">2020</text><text x="1180.8" y="839.5">2021</text><text x="1281.4" y="839.5">2022</text><text x="1381.9" y="839.5">2023</text><text x="1482.4" y="839.5">2024</text></g>
<circle cx="436.6" cy="889" r="11" fill="#EF8C1B"/>
<circle cx="720" cy="889" r="11" fill="#40BF30"/>
<text x="459.3" y="897.6" font-family="Liberation Sans" font-size="25.4" fill="#3B3F49" stroke="#3B3F49" stroke-width="0.2" textLength="215.5" lengthAdjust="spacingAndGlyphs">BTC: Price (USD)</text>
<text x="748.4" y="897.8" font-family="Liberation Sans" font-size="25.4" fill="#3B3F49" stroke="#3B3F49" stroke-width="0.2" textLength="426.3" lengthAdjust="spacingAndGlyphs">Exchange Volume Dominance (%)</text>
<text x="79.5" y="968.6" font-family="Liberation Sans" font-size="25.2" fill="#3B3F49" stroke="#3B3F49" stroke-width="0.75" textLength="86.5" lengthAdjust="spacingAndGlyphs">Source:</text>
<text x="172.5" y="968.6" font-family="Liberation Sans" font-size="25.2" fill="#3B3F49" textLength="124" lengthAdjust="spacingAndGlyphs">Glassnode</text>
<g fill="#1F4FDB">
<path d="M1303.5,916 L1320,916 A17.05,17.05 0 0 1 1320,950.1 L1303.5,950.1 Z"/>
<rect x="1342.9" y="916.4" width="8" height="5.5"/>
<rect x="1342.9" y="924.5" width="8" height="25.6"/>
<rect x="1381.1" y="924.5" width="7.8" height="35.3"/>
<rect x="1434.2" y="924.5" width="8" height="25.6"/>
<rect x="1450.8" y="916.4" width="7.6" height="33.7"/>
<rect x="1446.3" y="924.9" width="15.4" height="5"/>
<rect x="1496.3" y="916.4" width="7.7" height="33.7"/>
<rect x="1512.8" y="936" width="7.8" height="14.1"/>
</g>
<path d="M1303.5,938.3 L1316.9,938.3 L1316.9,950.1 L1315.3,950.1 A13.4,13.4 0 0 1 1303.5,938.3 Z" fill="#F7F9FE"/>
<g fill="none" stroke="#1F4FDB" stroke-width="8">
<circle cx="1395.8" cy="937.8" r="9.8"/>
<circle cx="1427.2" cy="937.8" r="9.8"/>
<path d="M1487,930.5 A9.8,9.8 0 1 0 1487,945"/>
<path d="M1500,937 A8.3,8.3 0 0 1 1516.7,937"/>
</g>
<path d="M1372.3,932.3 C1371,929 1368.5,927.9 1365.6,927.9 C1361.6,927.9 1359,929.9 1359,932.9 C1359,936.1 1362,937.1 1366,937.9 C1370,938.7 1372.6,940.1 1372.6,943.2 C1372.6,946.2 1370.2,947.9 1365.8,947.9 C1362,947.9 1359.6,946.5 1358.6,943.4" fill="none" stroke="#1F4FDB" stroke-width="7.6"/>
<text x="1434.7" y="972.2" font-family="Liberation Sans" font-weight="700" font-size="12.8" fill="#1A1C22">by</text>
<g>
<path d="M1455.6,963 L1460,960.3 L1464,962.5 L1464,975.6 L1460,975.6 L1455.6,973 Z" fill="#3BA7F2"/>
<path d="M1464.6,960.3 L1469,960.3 L1473.1,963 L1473.1,973 L1469,975.6 L1464.6,973 Z" fill="#1B48C9"/>
<path d="M1459,963 L1464,962 L1469.5,973 L1464.6,974 Z" fill="#2A6FE0"/>
</g>
<text x="1480" y="972.8" font-family="Liberation Sans" font-size="17.5" font-weight="700" fill="#2140BF" textLength="40.3" lengthAdjust="spacingAndGlyphs">nexo</text>

</svg>
<div class="title">Bitcoin: Exchange Volume Dominance</div>
</body></html>
